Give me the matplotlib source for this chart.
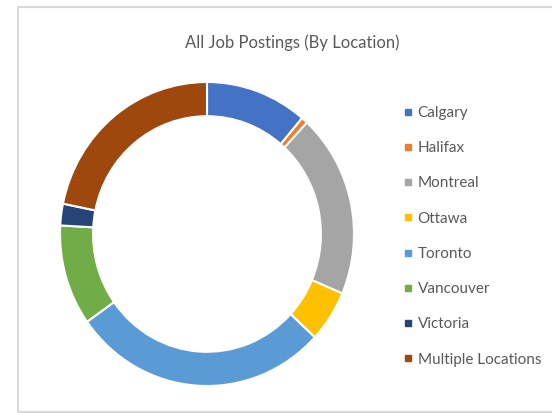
import matplotlib
matplotlib.use('Agg')
import matplotlib.pyplot as plt
from matplotlib.lines import Line2D
from matplotlib.patches import Rectangle

# share of postings by location (%)
locations = ['Calgary', 'Halifax', 'Montreal', 'Ottawa', 'Toronto',
             'Vancouver', 'Victoria', 'Multiple Locations']
shares = [11.2, 0.7, 19.5, 5.5, 28.3, 10.7, 2.3, 21.8]
colors = ['#4472C4', '#ED7D31', '#A5A5A5', '#FFC000', '#5B9BD5',
          '#70AD47', '#264478', '#9E480E']

plt.rcParams['font.family'] = ['Lato', 'DejaVu Sans']
txt = '#595959'

W, H = 552, 413
fig = plt.figure(figsize=(W/100., H/100.), dpi=100)

# light frame around the chart area
fig.patches.append(Rectangle((18/W, 1 - 412/H), (W - 18)/W + 0.01, (412 - 7)/H,
                             transform=fig.transFigure, fill=False,
                             edgecolor='#D9D9D9', linewidth=1.5))

fig.text(292/W, 1 - 43/H, 'All Job Postings (By Location)', ha='center',
         va='center', fontsize=12, color=txt)

# ring centre (207, 234), radii ~147 x 152 px
cx, cy, rx, ry = 207, 234, 147, 152
ax = fig.add_axes([(cx - rx)/W, 1 - (cy + ry)/H, 2*rx/W, 2*ry/H])
ax.pie(shares, colors=colors, startangle=90, counterclock=False,
       radius=1., wedgeprops=dict(width=0.225, edgecolor='white', linewidth=1.5))
ax.set_xlim(-1, 1)
ax.set_ylim(-1, 1)
ax.set_aspect('auto')
ax.axis('off')

handles = [Line2D([], [], marker='s', linestyle='', markersize=4.5,
                  color=c) for c in colors]
fig.legend(handles, locations, loc='upper left',
           bbox_to_anchor=(404/W, 1 - 106/H), frameon=False, fontsize=11,
           labelcolor=txt, handlelength=0.5, handletextpad=0.4,
           labelspacing=1.39, borderaxespad=0., borderpad=0.)

fig.savefig('out.png', dpi=100)
